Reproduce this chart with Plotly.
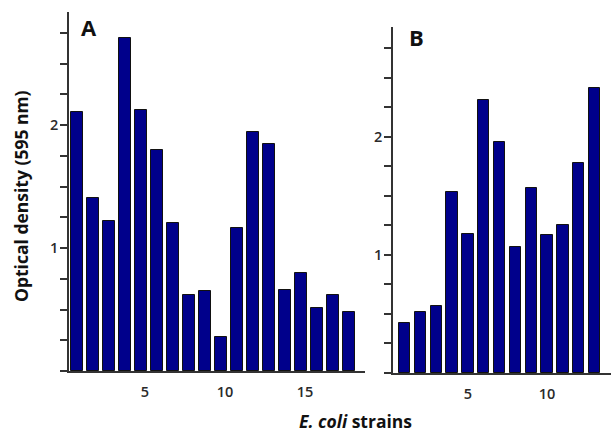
import plotly.graph_objects as go

# Panel A data
strains_a = list(range(1, 19))
od_a = [2.11, 1.41, 1.22, 2.71, 2.12, 1.80, 1.20, 0.62, 0.65, 0.28,
        1.16, 1.94, 1.85, 0.66, 0.80, 0.51, 0.62, 0.48]
# Panel B data
strains_b = list(range(1, 14))
od_b = [0.42, 0.52, 0.57, 1.53, 1.18, 2.31, 1.96, 1.07, 1.57, 1.17, 1.25, 1.78, 2.41]

xticks_a = [5, 10, 15]
xticks_b = [5, 10]
ytick_vals = [1, 2]

W, H = 611, 434
BAR = "#00008B"
AX = "#333333"
FONT = "Open Sans"

def px_x(p):
    return p / W

def px_y(p):
    return 1 - p / H

fig = go.Figure()
fig.add_trace(go.Bar(x=strains_a, y=od_a, width=0.75, xaxis="x", yaxis="y",
                     marker=dict(color=BAR, line=dict(color="#111111", width=1)),
                     showlegend=False))
fig.add_trace(go.Bar(x=strains_b, y=od_b, width=0.72, xaxis="x2", yaxis="y2",
                     marker=dict(color=BAR, line=dict(color="#111111", width=1)),
                     showlegend=False))

tickfont = dict(family=FONT, size=14.5, color="#2a2a2a", weight=600)

common_x = dict(showgrid=False, zeroline=False, showline=True, linecolor=AX, linewidth=1.5,
                ticks="", tickfont=tickfont, ticklabelstandoff=7)
common_y = dict(showgrid=False, zeroline=False, showline=True, linecolor=AX, linewidth=1.5,
                ticks="outside", ticklen=7, tickcolor=AX, tickwidth=1.5, tickfont=tickfont,
                tickvals=ytick_vals, ticktext=[str(v) for v in ytick_vals],
                minor=dict(ticks="outside", dtick=0.25, tick0=0, ticklen=7, tickcolor=AX, tickwidth=1.5),
                ticklabelposition="outside", ticklabelstandoff=-1)

fig.update_layout(
    width=W, height=H, margin=dict(l=0, r=0, t=0, b=0),
    plot_bgcolor="white", paper_bgcolor="white", bargap=0,
    xaxis=dict(domain=[px_x(69), px_x(365)], range=[0.5, 19.0], anchor="y",
               tickvals=xticks_a, ticktext=[str(v) for v in xticks_a], ticklabelshift=4, **common_x),
    yaxis=dict(domain=[px_y(371), px_y(12)], range=[0, 2.92], anchor="x", **common_y),
    xaxis2=dict(domain=[px_x(393), px_x(611)], range=[0.27, 14.04], anchor="y2",
                tickvals=xticks_b, ticktext=[str(v) for v in xticks_b], **common_x),
    yaxis2=dict(domain=[px_y(373), px_y(27)], range=[0, 2.93], anchor="x2", **common_y),
    # tick-mark-only overlay axes (ticks fall between bars in the original)
    xaxis3=dict(overlaying="x", anchor="y", range=[0.5, 19.0], showgrid=False, zeroline=False,
                showline=False, ticks="outside", ticklen=5, tickwidth=1.5, tickcolor=AX,
                tickvals=[2.6, 7.6, 12.7, 17.9], showticklabels=False),
    xaxis4=dict(overlaying="x2", anchor="y2", range=[0.27, 14.04], showgrid=False, zeroline=False,
                showline=False, ticks="outside", ticklen=5, tickwidth=1.5, tickcolor=AX,
                tickvals=[2.3, 7.3, 12.3], showticklabels=False),
)

ann = dict(xref="paper", yref="paper", showarrow=False, xanchor="center", yanchor="middle")
fig.add_annotation(x=px_x(89), y=px_y(27), text="<b>A</b>",
                   font=dict(family=FONT, size=22, color="#111111"), **ann)
fig.add_annotation(x=px_x(416), y=px_y(37), text="<b>B</b>",
                   font=dict(family=FONT, size=22, color="#111111"), **ann)
fig.add_annotation(x=px_x(21), y=px_y(196), text="<b>Optical density (595 nm)</b>", textangle=-90,
                   font=dict(family=FONT, size=17.5, color="#111111"), **ann)
fig.add_annotation(x=px_x(355), y=px_y(421), text="<b><i>E. coli</i> strains</b>",
                   font=dict(family=FONT, size=17.5, color="#111111"), **ann)

fig.write_html("out.html")
